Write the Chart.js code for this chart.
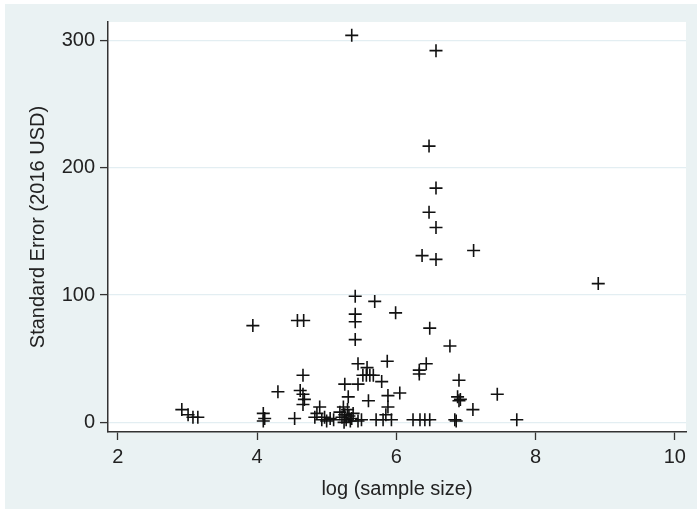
<!DOCTYPE html>
<html>
<head>
<meta charset="utf-8">
<script src="https://cdn.jsdelivr.net/npm/chart.js@4.4.0/dist/chart.umd.min.js"></script>
<style>
html,body{margin:0;padding:0;background:#fff;}
#wrap{width:697px;height:509px;position:relative;}
</style>
</head>
<body>
<div id="wrap"><canvas id="c" width="697" height="509"></canvas></div>
<script>
// log(sample size)
const logSampleSize = [
  5.36,6.57,6.47,6.57,6.47,6.57,6.37,6.57,7.11,8.90,
  5.41,5.69,5.41,5.41,5.99,5.41,6.48,6.77,4.58,4.67,3.94,
  6.43,6.33,6.33,5.87,5.45,5.58,5.52,5.57,5.62,5.67,5.79,5.26,5.45,4.66,4.30,4.62,4.66,4.68,4.66,5.88,6.05,5.60,5.88,5.31,6.90,6.88,6.92,6.90,7.10,7.45,
  2.92,3.01,3.08,3.15,4.09,4.11,4.09,4.54,
  4.83,4.90,4.97,4.86,4.93,5.00,5.05,5.10,
  5.19,5.22,5.24,5.26,5.28,5.30,5.32,5.34,5.36,5.25,5.38,5.45,
  5.50,5.71,5.81,5.85,5.93,6.24,6.34,6.41,6.48,6.84,6.86,7.73
];
// Standard Error (2016 USD)
const standardError = [
  304,292,217,184,165,153,131,128,135,109,
  99,95,85,79,86,65,74,60,80,80,76,
  46,41,38,48,46,43,37,37,37,37,32,30,30,37,24,25,22,18,14,21,23,17,12,20,33,20,18,17,10,22,
  10,6,4,4,7,3,1,3,
  4,12,4,7,2,1,3,2,
  8,4,12,6,2,10,5,1,3,0,7,1,
  2,2,2,6,2,2,2,2,2,2,1,2
];
const xTicks = [2,4,6,8,10];
const yTicks = [0,100,200,300];

const points = logSampleSize.map((x,i)=>({x:x, y:standardError[i]}));

const bgPlugin = {
  id:'bg',
  beforeDraw(chart){
    const {ctx, width, height, chartArea:a} = chart;
    ctx.save();
    ctx.fillStyle = '#ffffff';
    ctx.fillRect(0,0,width,height);
    ctx.fillStyle = '#eaf2f3';
    ctx.fillRect(5,4,width-5,height-4);
    ctx.fillStyle = '#ffffff';
    ctx.fillRect(a.left,a.top,a.right-a.left,a.bottom-a.top);
    ctx.restore();
  }
};

const FONT = 'Liberation Sans, Arial, sans-serif';

new Chart(document.getElementById('c'), {
  type:'scatter',
  data:{datasets:[{
    data:points,
    pointStyle:'cross',
    pointRadius:6.5,
    pointHoverRadius:6.5,
    borderColor:'#111',
    backgroundColor:'#111',
    pointBorderWidth:1.6,
    borderWidth:1.6
  }]},
  options:{
    responsive:false,
    animation:false,
    events:[],
    layout:{padding:{left:5,top:22,right:11,bottom:0}},
    plugins:{legend:{display:false},tooltip:{enabled:false}},
    scales:{
      x:{
        type:'linear',
        min:1.86,max:10.16,
        afterBuildTicks(s){ s.ticks = xTicks.map(v=>({value:v})); },
        afterFit(s){ s.height = 77; },
        grid:{drawOnChartArea:false,tickColor:'#333',tickLength:8,tickWidth:1.3},
        border:{display:true,color:'#333',width:1.5},
        ticks:{color:'#222',font:{family:FONT,size:20},padding:5,maxRotation:0,autoSkip:false},
        title:{display:true,text:'log (sample size)',color:'#222',font:{family:FONT,size:20},padding:{top:2,bottom:8}}
      },
      y:{
        type:'linear',
        min:-7.6,max:314.5,
        afterBuildTicks(s){ s.ticks = yTicks.map(v=>({value:v})); },
        afterFit(s){ s.width = 103; },
        grid:{color:'#e3eef2',lineWidth:1.2,tickColor:'#333',tickLength:8,tickWidth:1.3},
        border:{display:true,color:'#333',width:1.5},
        ticks:{color:'#222',font:{family:FONT,size:20},padding:5,autoSkip:false},
        title:{display:true,text:'Standard Error (2016 USD)',color:'#222',font:{family:FONT,size:20},padding:{top:21,bottom:0}}
      }
    }
  },
  plugins:[bgPlugin]
});
</script>
</body>
</html>
